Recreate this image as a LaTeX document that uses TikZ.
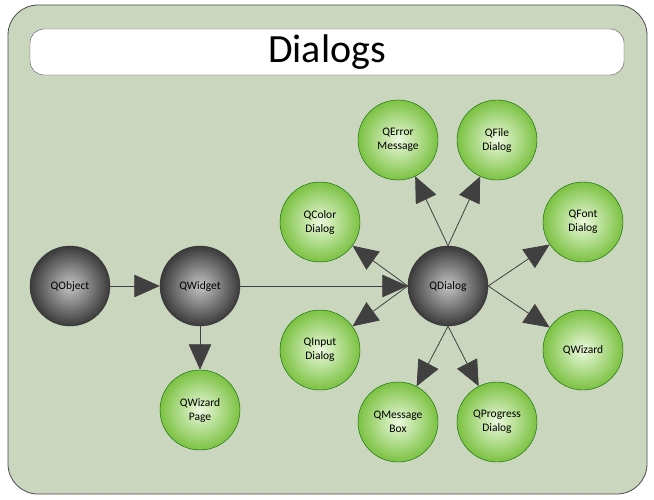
\documentclass[tikz,border=0pt]{standalone}
\usepackage{fontspec}
\setmainfont{Carlito}
\usetikzlibrary{arrows.meta}
\definecolor{bg}{HTML}{CBD6BF}
\definecolor{gin}{HTML}{EAF8DC}
\definecolor{gout}{HTML}{7CC242}
\definecolor{kin}{HTML}{C4C4C4}
\definecolor{kout}{HTML}{3A3A3A}
\tikzset{
 c/.style={circle,minimum size=80pt,inner sep=0pt,align=center,font=\fontsize{11.5}{14}\selectfont,draw=#1},
 g/.style={c=green!40!black,inner color=gin,outer color=gout},
 k/.style={c=black!80,inner color=kin,outer color=kout},
 ar/.style={draw=black!75,line width=0.8pt,-{Triangle[length=17pt,width=15pt,scale=1.5]}}
}
\begin{document}
\begin{tikzpicture}[x=1pt,y=-1pt]
\useasboundingbox (0,0) rectangle (654,500);
\fill[white] (0,0) rectangle (654,500);
\draw[fill=bg,draw=black!70,line width=0.8pt,rounded corners=30pt] (8,5) rectangle (647,494);
\node[draw=black!70,fill=white,rounded corners=14pt,minimum width=594pt,minimum height=46pt,font=\fontsize{40}{44}\selectfont] (title) at (327,52) {Dialogs};
\node[k] (obj) at (70,286) {QObject};
\node[k] (wid) at (200,286) {QWidget};
\node[k] (dlg) at (448,286) {QDialog};
\node[g] (wp) at (200,410) {QWizard\\Page};
\node[g] (col) at (320,222) {QColor\\Dialog};
\node[g] (inp) at (320,350) {QInput\\Dialog};
\node[g] (err) at (398,140) {QError\\Message};
\node[g] (fil) at (497,140) {QFile\\Dialog};
\node[g] (fnt) at (583,222) {QFont\\Dialog};
\node[g] (wiz) at (583,350) {QWizard};
\node[g] (mb) at (398,422) {QMessage\\Box};
\node[g] (pr) at (497,422) {QProgress\\Dialog};
\draw[ar] (obj) -- (wid);
\draw[ar] (wid) -- (dlg);
\draw[ar] (wid) -- (wp);
\draw[ar] (dlg.north) -- (err);
\draw[ar] (dlg.north) -- (fil);
\draw[ar] (dlg.west) -- (col);
\draw[ar] (dlg.west) -- (inp);
\draw[ar] (dlg.east) -- (fnt);
\draw[ar] (dlg.east) -- (wiz);
\draw[ar] (dlg.south) -- (mb);
\draw[ar] (dlg.south) -- (pr);
\end{tikzpicture}
\end{document}
